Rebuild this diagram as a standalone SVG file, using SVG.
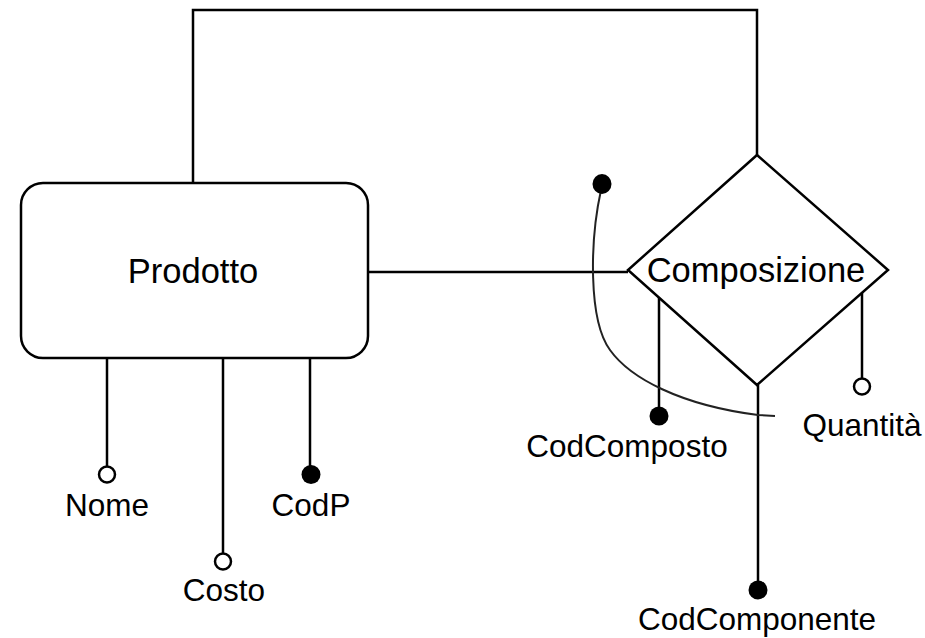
<svg xmlns="http://www.w3.org/2000/svg" width="925" height="638" viewBox="0 0 925 638">
<style>
.ln{fill:none;stroke:#000;stroke-width:2.5}
.cur{fill:none;stroke:#222;stroke-width:2}
.sh{fill:#fff;stroke:#000;stroke-width:2.5}
.op{fill:#fff;stroke:#000;stroke-width:2.5}
.fl{fill:#000;stroke:none}
.big{font-family:"Liberation Sans",Arial,sans-serif;font-size:34.5px;fill:#000;text-anchor:middle}
.lab{font-family:"Liberation Sans",Arial,sans-serif;font-size:31.5px;fill:#000;text-anchor:middle}
</style>
<rect width="925" height="638" fill="#fff"/>
<g id="connectors">
<path class="ln" d="M193,183 V10 H757 V155"/>
<path class="ln" d="M368,272 H628"/>
<path class="ln" d="M107,358 V466"/>
<path class="ln" d="M223,358 V553"/>
<path class="ln" d="M310,358 V474"/>
<path class="ln" d="M659,297 V417"/>
<path class="ln" d="M862,293 V378"/>
<path class="ln" d="M758,385 V590"/>
<path class="cur" d="M601,190 C590,240 588,320 610,350 C630,378 680,405 758,415 L775,416"/>
</g>
<g id="prodotto">
<rect class="sh" x="21" y="183" width="347" height="175" rx="22" ry="22"/>
<text class="big" x="193" y="283">Prodotto</text>
</g>
<g id="composizione">
<polygon class="sh" points="757,155 888,270 757,385 628,270"/>
<text class="big" x="756" y="282">Composizione</text>
</g>
<g id="attr-nome">
<circle class="op" cx="107" cy="474.5" r="8"/>
<text class="lab" x="107" y="516">Nome</text>
</g>
<g id="attr-costo">
<circle class="op" cx="223" cy="561.5" r="8"/>
<text class="lab" x="224" y="601">Costo</text>
</g>
<g id="attr-codp">
<circle class="fl" cx="311" cy="474.5" r="9.5"/>
<text class="lab" x="311" y="516">CodP</text>
</g>
<g id="attr-codcomposto">
<circle class="fl" cx="659" cy="416" r="9.5"/>
<text class="lab" x="627" y="457">CodComposto</text>
</g>
<g id="attr-quantita">
<circle class="op" cx="862" cy="386.5" r="8"/>
<text class="lab" x="862" y="436">Quantità</text>
</g>
<g id="attr-codcomponente">
<circle class="fl" cx="758" cy="590" r="9.5"/>
<text class="lab" x="757" y="630">CodComponente</text>
</g>
<g id="identifier">
<ellipse class="fl" cx="602" cy="184" rx="9.5" ry="10"/>
</g>
</svg>
